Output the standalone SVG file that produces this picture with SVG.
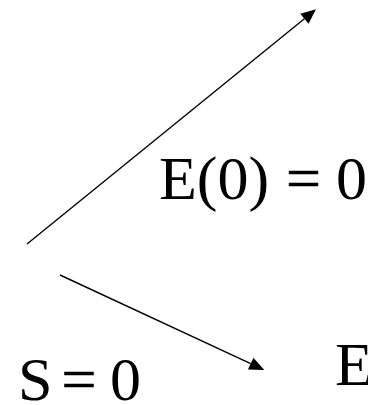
<svg xmlns="http://www.w3.org/2000/svg" width="368" height="405" viewBox="0 0 368 405">
<style>
.t{font-family:"Liberation Serif","Times New Roman",serif;font-size:62px;fill:#000}
.eq{stroke:#000;stroke-width:0.6}
.c{stroke:#000;stroke-width:1.4;fill:none}
</style>
<defs>
<marker id="ah" markerUnits="userSpaceOnUse" markerWidth="16" markerHeight="14" refX="0" refY="6.5" orient="auto" overflow="visible">
<path d="M0,0 L15,6.5 L0,13 z" fill="#000"/>
</marker>
</defs>
<g id="connectors">
<path class="c" d="M27,244 L304.4,18.8" marker-end="url(#ah)"/>
<path class="c" d="M60,275 L250.7,363.7" marker-end="url(#ah)"/>
</g>
<g id="label-e0"><text class="t" x="159" y="199">E(0)<tspan class="eq" x="286">=</tspan><tspan x="336">0</tspan></text></g>
<g id="label-s"><text class="t" x="18" y="400">S<tspan class="eq" x="61.5">=</tspan><tspan x="110">0</tspan></text></g>
<g id="label-e"><text class="t" x="335" y="385">E</text></g>
</svg>
